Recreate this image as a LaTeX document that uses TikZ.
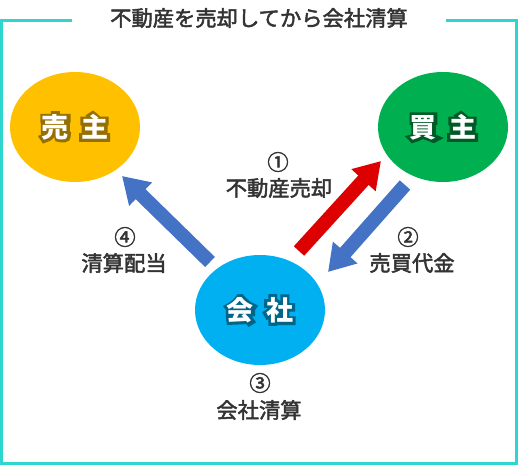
\documentclass[tikz,border=0pt]{standalone}
\usepackage{fontspec}
\newfontfamily\cjk[FakeBold=2.2]{Noto Sans CJK JP}
\newfontfamily\cjkb{Noto Sans CJK JP}
\newfontfamily\cjkglow[FakeBold=25]{Noto Sans CJK JP}
\usetikzlibrary{shapes.geometric,arrows.meta,calc}
\definecolor{frameC}{HTML}{2DD6CE}
\definecolor{txtC}{HTML}{333333}
\definecolor{yelC}{HTML}{FFC000}
\definecolor{grnC}{HTML}{00B050}
\definecolor{bluC}{HTML}{00B0F0}
\definecolor{yelD}{HTML}{957000}
\definecolor{grnD}{HTML}{005A27}
\definecolor{bluD}{HTML}{006689}
\definecolor{arrR}{HTML}{DD0000}
\definecolor{arrB}{HTML}{4472C4}
\tikzset{
  frameline/.style={draw=frameC, line width=3pt},
  party/.style={ellipse, minimum width=130pt, minimum height=110pt, inner sep=0pt},
  lbl/.style={font=\cjk\fontsize{21.3pt}{24pt}\selectfont, text=txtC, inner sep=0pt},
  ptext/.style={font=\fontsize{27pt}{30pt}\selectfont, inner sep=0pt, text=white},
  blockarrow/.style={line width=14pt, -{Triangle[length=26pt,width=31pt]}},
}
% white text with a dark outline: emboldened dark copy underneath, plain copy on top
\newcommand\glowtext[2]{%
  \rlap{\cjkglow\color{#1}#2}{\cjkb\bfseries\color{white}#2}}
\begin{document}
\begin{tikzpicture}[x=1pt,y=-1pt]
\useasboundingbox (0,0) rectangle (518,465);
% frame
\draw[frameline] (72,20.5) -| (1.5,463.5) -| (516.5,20.5) -- (446,20.5);
\node[lbl] (title) at (259,18) {不動産を売却してから会社清算};
% parties
\node[party, fill=yelC] (uri) at (75,127) {};
\node[party, fill=grnC] (kai) at (443,127) {};
\node[party, fill=bluC] (sha) at (260,310) {};
\node[ptext] (uriT) at (uri) {\glowtext{yelD}{売\hspace{0.45em}主}};
\node[ptext] (kaiT) at (kai) {\glowtext{grnD}{買\hspace{0.45em}主}};
\node[ptext] (shaT) at (sha) {\glowtext{bluD}{会\hspace{0.45em}社}};
% arrows
\coordinate (r0) at (299,251);
\coordinate (r1) at (381,161);
\coordinate (b0) at (405,185);
\coordinate (b1) at (328,272);
\coordinate (c0) at (210,262);
\coordinate (c1) at (122,176);
\draw[blockarrow, draw=arrR, arrR] (r0) -- (r1);
\draw[blockarrow, draw=arrB, arrB] (b0) -- (b1);
\draw[blockarrow, draw=arrB, arrB] (c0) -- (c1);
% labels
\node[lbl] (n1) at (278,162) {①};
\node[lbl] (l1) at (279,188) {不動産売却};
\node[lbl] (n2) at (408,237) {②};
\node[lbl] (l2) at (412,263) {売買代金};
\node[lbl] (n4) at (125,237) {④};
\node[lbl] (l4) at (124,263) {清算配当};
\node[lbl] (n3) at (260,383) {③};
\node[lbl] (l3) at (259,410) {会社清算};
\end{tikzpicture}
\end{document}
